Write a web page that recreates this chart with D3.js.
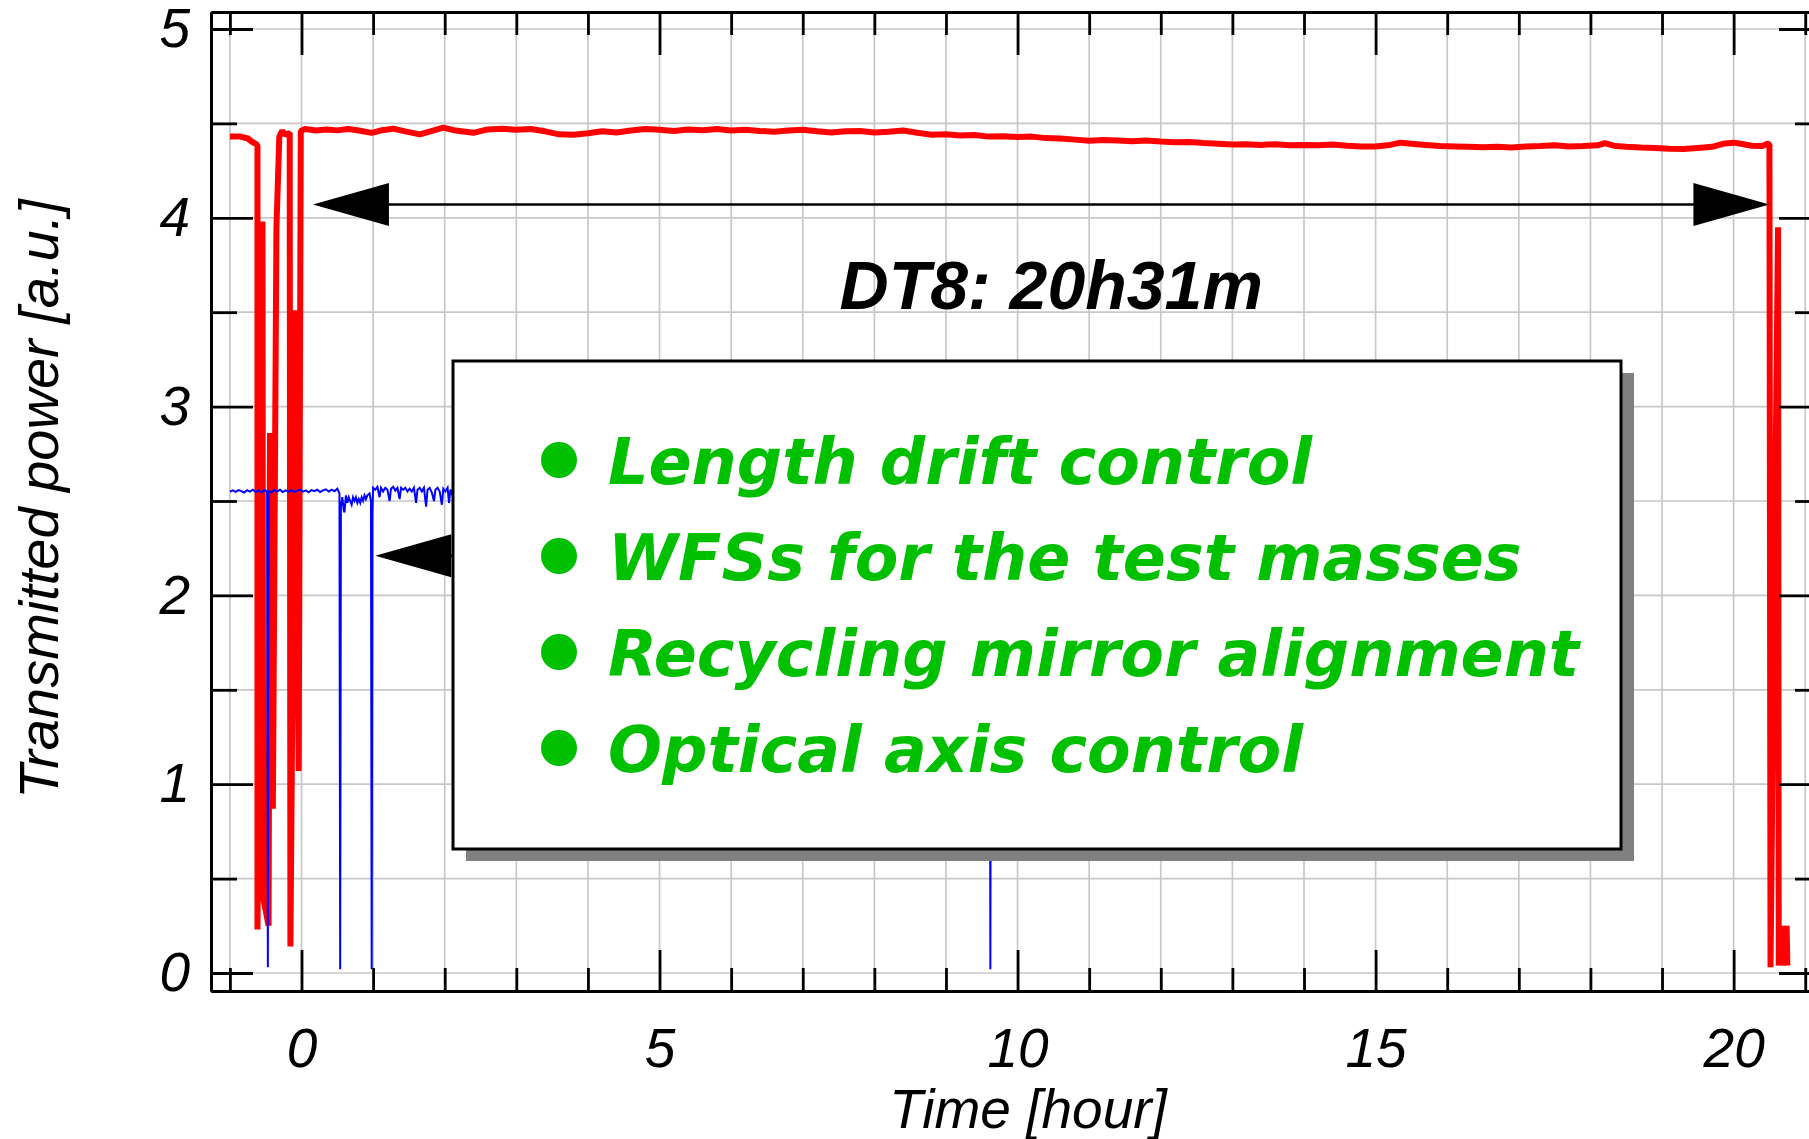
<!DOCTYPE html>
<html>
<head>
<meta charset="utf-8">
<script src="https://cdnjs.cloudflare.com/ajax/libs/d3/7.8.5/d3.min.js"></script>
<style>
  body { margin: 0; background: #fff; }
  svg { display: block; }
  .tick text { font-family: "Liberation Sans", Arial, sans-serif; font-style: italic; font-size: 55px; fill: #000; }
  .axis path, .axis line { stroke: #000; stroke-width: 2.8; }
</style>
</head>
<body>
<div id="chart"></div>
<script>
// transmitted power, red = arm cavity, blue = recycling (hour, a.u.)
let redPoints = [
  [-1.00, 4.43], [-0.85, 4.43], [-0.75, 4.42], [-0.68, 4.40], [-0.63, 4.39],
  [-0.615, 4.38], [-0.615, 0.23], [-0.545, 3.98], [-0.535, 0.40], [-0.46, 0.25],
  [-0.44, 2.86], [-0.40, 0.87], [-0.35, 3.95], [-0.31, 4.43], [-0.27, 4.46],
  [-0.22, 4.44], [-0.165, 4.45], [-0.155, 0.14], [-0.085, 3.51], [-0.04, 1.07],
  [-0.01, 4.46], [0.05, 4.47], [0.2, 4.462], [0.35, 4.468], [0.5, 4.463],
  [0.65, 4.470], [0.8, 4.462], [0.98, 4.450], [1.1, 4.462], [1.28, 4.472],
  [1.45, 4.458], [1.65, 4.442], [1.8, 4.458], [1.98, 4.478], [2.15, 4.462],
  [2.4, 4.450], [2.6, 4.468], [2.8, 4.472], [3.0, 4.466], [3.2, 4.470],
  [3.4, 4.458], [3.6, 4.442], [3.8, 4.440], [4.0, 4.448], [4.2, 4.458],
  [4.4, 4.452], [4.6, 4.462], [4.8, 4.470], [5.0, 4.466], [5.2, 4.460],
  [5.4, 4.468], [5.6, 4.464], [5.8, 4.470], [6.0, 4.462], [6.2, 4.466],
  [6.4, 4.460], [6.6, 4.456], [6.8, 4.462], [7.0, 4.466], [7.2, 4.458],
  [7.4, 4.452], [7.6, 4.458], [7.8, 4.460], [8.0, 4.452], [8.2, 4.456],
  [8.4, 4.462], [8.6, 4.450], [8.8, 4.440], [9.0, 4.442], [9.2, 4.436],
  [9.4, 4.438], [9.6, 4.430], [9.8, 4.432], [10.0, 4.428], [10.2, 4.430],
  [10.4, 4.422], [10.6, 4.420], [10.8, 4.414], [11.0, 4.408], [11.2, 4.412],
  [11.4, 4.410], [11.6, 4.406], [11.8, 4.410], [12.0, 4.404], [12.2, 4.400],
  [12.4, 4.402], [12.6, 4.396], [12.8, 4.392], [13.0, 4.388], [13.2, 4.390],
  [13.4, 4.386], [13.6, 4.390], [13.8, 4.384], [14.0, 4.386], [14.2, 4.384],
  [14.4, 4.388], [14.6, 4.382], [14.8, 4.378], [15.0, 4.378], [15.2, 4.386],
  [15.35, 4.398], [15.5, 4.392], [15.7, 4.386], [15.9, 4.380], [16.1, 4.378],
  [16.3, 4.376], [16.5, 4.374], [16.7, 4.376], [16.9, 4.372], [17.1, 4.378],
  [17.3, 4.380], [17.5, 4.384], [17.7, 4.378], [17.9, 4.380], [18.1, 4.384],
  [18.2, 4.396], [18.35, 4.380], [18.5, 4.376], [18.7, 4.372], [18.9, 4.370],
  [19.1, 4.366], [19.3, 4.364], [19.5, 4.370], [19.7, 4.376], [19.85, 4.392],
  [20.0, 4.398], [20.1, 4.392], [20.25, 4.382], [20.4, 4.380], [20.47, 4.392],
  [20.5, 4.39], [20.515, 0.03], [20.62, 3.95], [20.63, 0.04], [20.68, 0.25],
  [20.70, 0.04], [20.74, 0.25], [20.75, 0.04]
];

let bluePoints = [
  [-1.00, 2.550], [-0.96, 2.556], [-0.92, 2.548], [-0.88, 2.558], [-0.84, 2.552],
  [-0.80, 2.545], [-0.76, 2.557], [-0.72, 2.550], [-0.68, 2.560], [-0.64, 2.548],
  [-0.60, 2.556], [-0.56, 2.545], [-0.52, 2.558], [-0.48, 2.550], [-0.47, 0.03],
  [-0.46, 2.552], [-0.42, 2.545], [-0.38, 2.558], [-0.34, 2.550], [-0.30, 2.560],
  [-0.26, 2.547], [-0.22, 2.556], [-0.18, 2.550], [-0.14, 2.558], [-0.10, 2.548],
  [-0.06, 2.555], [-0.02, 2.560], [0.02, 2.550], [0.06, 2.556], [0.10, 2.546],
  [0.14, 2.558], [0.18, 2.552], [0.22, 2.560], [0.26, 2.548], [0.30, 2.556],
  [0.34, 2.562], [0.38, 2.550], [0.42, 2.560], [0.46, 2.552], [0.50, 2.565],
  [0.53, 2.540], [0.54, 0.02], [0.55, 2.47], [0.57, 2.52], [0.59, 2.45],
  [0.60, 2.44], [0.62, 2.53], [0.64, 2.49], [0.66, 2.52], [0.68, 2.50],
  [0.70, 2.48], [0.72, 2.52], [0.74, 2.50], [0.76, 2.52], [0.78, 2.49],
  [0.80, 2.51], [0.82, 2.49], [0.84, 2.52], [0.86, 2.50], [0.88, 2.53],
  [0.90, 2.51], [0.92, 2.53], [0.95, 2.54], [0.97, 2.50], [0.98, 0.02],
  [0.99, 2.43], [1.00, 2.57], [1.03, 2.56], [1.06, 2.575], [1.09, 2.52],
  [1.11, 2.57], [1.14, 2.55], [1.17, 2.57], [1.20, 2.56], [1.23, 2.50],
  [1.25, 2.565], [1.28, 2.575], [1.31, 2.555], [1.34, 2.57], [1.37, 2.51],
  [1.39, 2.57], [1.42, 2.56], [1.45, 2.57], [1.48, 2.55], [1.51, 2.565],
  [1.54, 2.55], [1.57, 2.57], [1.60, 2.49], [1.62, 2.56], [1.65, 2.57],
  [1.68, 2.55], [1.71, 2.57], [1.74, 2.47], [1.76, 2.56], [1.79, 2.57],
  [1.82, 2.545], [1.85, 2.50], [1.87, 2.56], [1.90, 2.57], [1.93, 2.55],
  [1.96, 2.48], [1.98, 2.565], [2.01, 2.55], [2.04, 2.57], [2.06, 2.49],
  [2.08, 2.56], [2.11, 2.53], [2.14, 2.56], [2.17, 2.55],
  [3.0, 2.56], [5.0, 2.56], [7.0, 2.55], [9.0, 2.56], [9.61, 2.55],
  [9.62, 0.02], [9.63, 2.55], [9.8, 2.55]
];

let majorHours = [0, 5, 10, 15, 20];
let minorHours = [-1, 1, 2, 3, 4, 6, 7, 8, 9, 11, 12, 13, 14, 16, 17, 18, 19, 21];
let gridHours = [-1, 0, 1, 2, 3, 4, 5, 6, 7, 8, 9, 10, 11, 12, 13, 14, 15, 16, 17, 18, 19, 20, 21];
let majorPower = [0, 1, 2, 3, 4, 5];
let minorPower = [0.5, 1.5, 2.5, 3.5, 4.5];
let gridPower = [0, 0.5, 1, 1.5, 2, 2.5, 3, 3.5, 4, 4.5, 5];

let lockArrow = {from: 0.16, to: 20.5, level: 4.07};
let blueArrow = {from: 1.03, to: 3.0, level: 2.21};
let lockLabel = "DT8: 20h31m";
let controlItems = ["Length drift control", "WFSs for the test masses",
                    "Recycling mirror alignment", "Optical axis control"];

let width = 1809, height = 1139;

let x = d3.scaleLinear().domain([-1.264, 21.22]).range([211, 1821]);
let y = d3.scaleLinear().domain([-0.0953, 5.090]).range([991, 12]);

let svg = d3.select("#chart").append("svg")
    .attr("width", width)
    .attr("height", height)
    .style("background", "#fff");

// grid
svg.append("g").selectAll("line").data(gridHours).join("line")
    .attr("x1", d => x(d)).attr("x2", d => x(d))
    .attr("y1", y.range()[1]).attr("y2", y.range()[0])
    .attr("stroke", "#c8c8c8").attr("stroke-width", 1.7);
svg.append("g").selectAll("line").data(gridPower).join("line")
    .attr("x1", x.range()[0]).attr("x2", x.range()[1])
    .attr("y1", d => y(d)).attr("y2", d => y(d))
    .attr("stroke", "#c8c8c8").attr("stroke-width", 1.7);

let line = d3.line().x(d => x(d[0])).y(d => y(d[1]));

svg.append("path").datum(redPoints)
    .attr("d", line)
    .attr("fill", "none").attr("stroke", "#ff0000")
    .attr("stroke-width", 6).attr("stroke-linejoin", "bevel");

svg.append("path").datum(bluePoints)
    .attr("d", line)
    .attr("fill", "none").attr("stroke", "#0000ff")
    .attr("stroke-width", 2).attr("stroke-linejoin", "miter");

// arrows
let headLen = 76, headHalf = 21.5;
function arrowHead(tipX, tipY, dir) {
    let bx = tipX + dir * headLen;
    return `M${tipX},${tipY}L${bx},${tipY - headHalf}L${bx},${tipY + headHalf}Z`;
}
let ay = y(lockArrow.level);
svg.append("line")
    .attr("x1", x(lockArrow.from) + 20).attr("x2", x(lockArrow.to) - 20)
    .attr("y1", ay).attr("y2", ay)
    .attr("stroke", "#000").attr("stroke-width", 2.5);
svg.append("path").attr("d", arrowHead(x(lockArrow.from), ay, 1)).attr("fill", "#000");
svg.append("path").attr("d", arrowHead(x(lockArrow.to), ay, -1)).attr("fill", "#000");

let by = y(blueArrow.level);
svg.append("line")
    .attr("x1", x(blueArrow.from) + 20).attr("x2", x(blueArrow.to))
    .attr("y1", by).attr("y2", by)
    .attr("stroke", "#000").attr("stroke-width", 2.5);
svg.append("path").attr("d", arrowHead(x(blueArrow.from), by, 1)).attr("fill", "#000");

svg.append("text")
    .attr("x", x(10.47)).attr("y", y(3.517))
    .attr("text-anchor", "middle")
    .style("font-family", "'Liberation Sans', Arial, sans-serif")
    .style("font-weight", "bold").style("font-style", "italic")
    .style("font-size", "68px")
    .text(lockLabel);

// control box
let boxX = 453, boxY = 361, boxW = 1168, boxH = 488;
svg.append("rect")
    .attr("x", boxX + 13).attr("y", boxY + 12)
    .attr("width", boxW).attr("height", boxH)
    .attr("fill", "#808080");
svg.append("rect")
    .attr("x", boxX).attr("y", boxY)
    .attr("width", boxW).attr("height", boxH)
    .attr("fill", "#fff").attr("stroke", "#000").attr("stroke-width", 3);

let items = svg.append("g").selectAll("g").data(controlItems).join("g")
    .attr("transform", (d, i) => `translate(0, ${484 + i * 96})`);
items.append("circle")
    .attr("cx", 559).attr("cy", -24).attr("r", 18)
    .attr("fill", "#00c000");
items.append("text")
    .attr("x", 608).attr("y", 0)
    .style("font-family", "'DejaVu Sans', Verdana, sans-serif")
    .style("font-weight", "bold").style("font-style", "italic")
    .style("font-size", "63.5px")
    .attr("fill", "#00c000")
    .text(d => d);

// axes
function styleAxis(g) {
    g.attr("class", "axis");
    g.selectAll("path").attr("stroke-width", 2.8);
    g.selectAll("line").attr("stroke-width", 2.8);
}

svg.append("g").attr("transform", `translate(0, ${y.range()[0]})`)
    .call(d3.axisBottom(x).tickValues(minorHours).tickSize(-23).tickSizeOuter(0).tickFormat(""))
    .call(styleAxis);
svg.append("g").attr("transform", `translate(0, ${y.range()[0]})`)
    .call(d3.axisBottom(x).tickValues(majorHours).tickSize(-41).tickSizeOuter(0).tickPadding(37).tickFormat(d3.format("d")))
    .call(styleAxis);

svg.append("g").attr("transform", `translate(0, ${y.range()[1]})`)
    .call(d3.axisTop(x).tickValues(minorHours).tickSize(-23).tickSizeOuter(0).tickFormat(""))
    .call(styleAxis);
svg.append("g").attr("transform", `translate(0, ${y.range()[1]})`)
    .call(d3.axisTop(x).tickValues(majorHours).tickSize(-43).tickSizeOuter(0).tickFormat(""))
    .call(styleAxis);

svg.append("g").attr("transform", `translate(${x.range()[0]}, 0)`)
    .call(d3.axisLeft(y).tickValues(minorPower).tickSize(-26).tickSizeOuter(0).tickFormat(""))
    .call(styleAxis);
svg.append("g").attr("transform", `translate(${x.range()[0]}, 0)`)
    .call(d3.axisLeft(y).tickValues(majorPower).tickSize(-42).tickSizeOuter(0).tickPadding(21).tickFormat(d3.format("d")))
    .call(styleAxis);

svg.append("g").attr("transform", `translate(${x.range()[1]}, 0)`)
    .call(d3.axisRight(y).tickValues(minorPower).tickSize(-26).tickSizeOuter(0).tickFormat(""))
    .call(styleAxis);
svg.append("g").attr("transform", `translate(${x.range()[1]}, 0)`)
    .call(d3.axisRight(y).tickValues(majorPower).tickSize(-42).tickSizeOuter(0).tickFormat(""))
    .call(styleAxis);

// axis titles
svg.append("text")
    .attr("x", 1028).attr("y", 1128)
    .attr("text-anchor", "middle")
    .style("font-family", "'Liberation Sans', Arial, sans-serif")
    .style("font-style", "italic").style("font-size", "55px")
    .text("Time [hour]");

svg.append("text")
    .attr("transform", "translate(58, 499) rotate(-90)")
    .attr("text-anchor", "middle")
    .style("font-family", "'Liberation Sans', Arial, sans-serif")
    .style("font-style", "italic").style("font-size", "56px")
    .text("Transmitted power [a.u.]");
</script>
</body>
</html>
